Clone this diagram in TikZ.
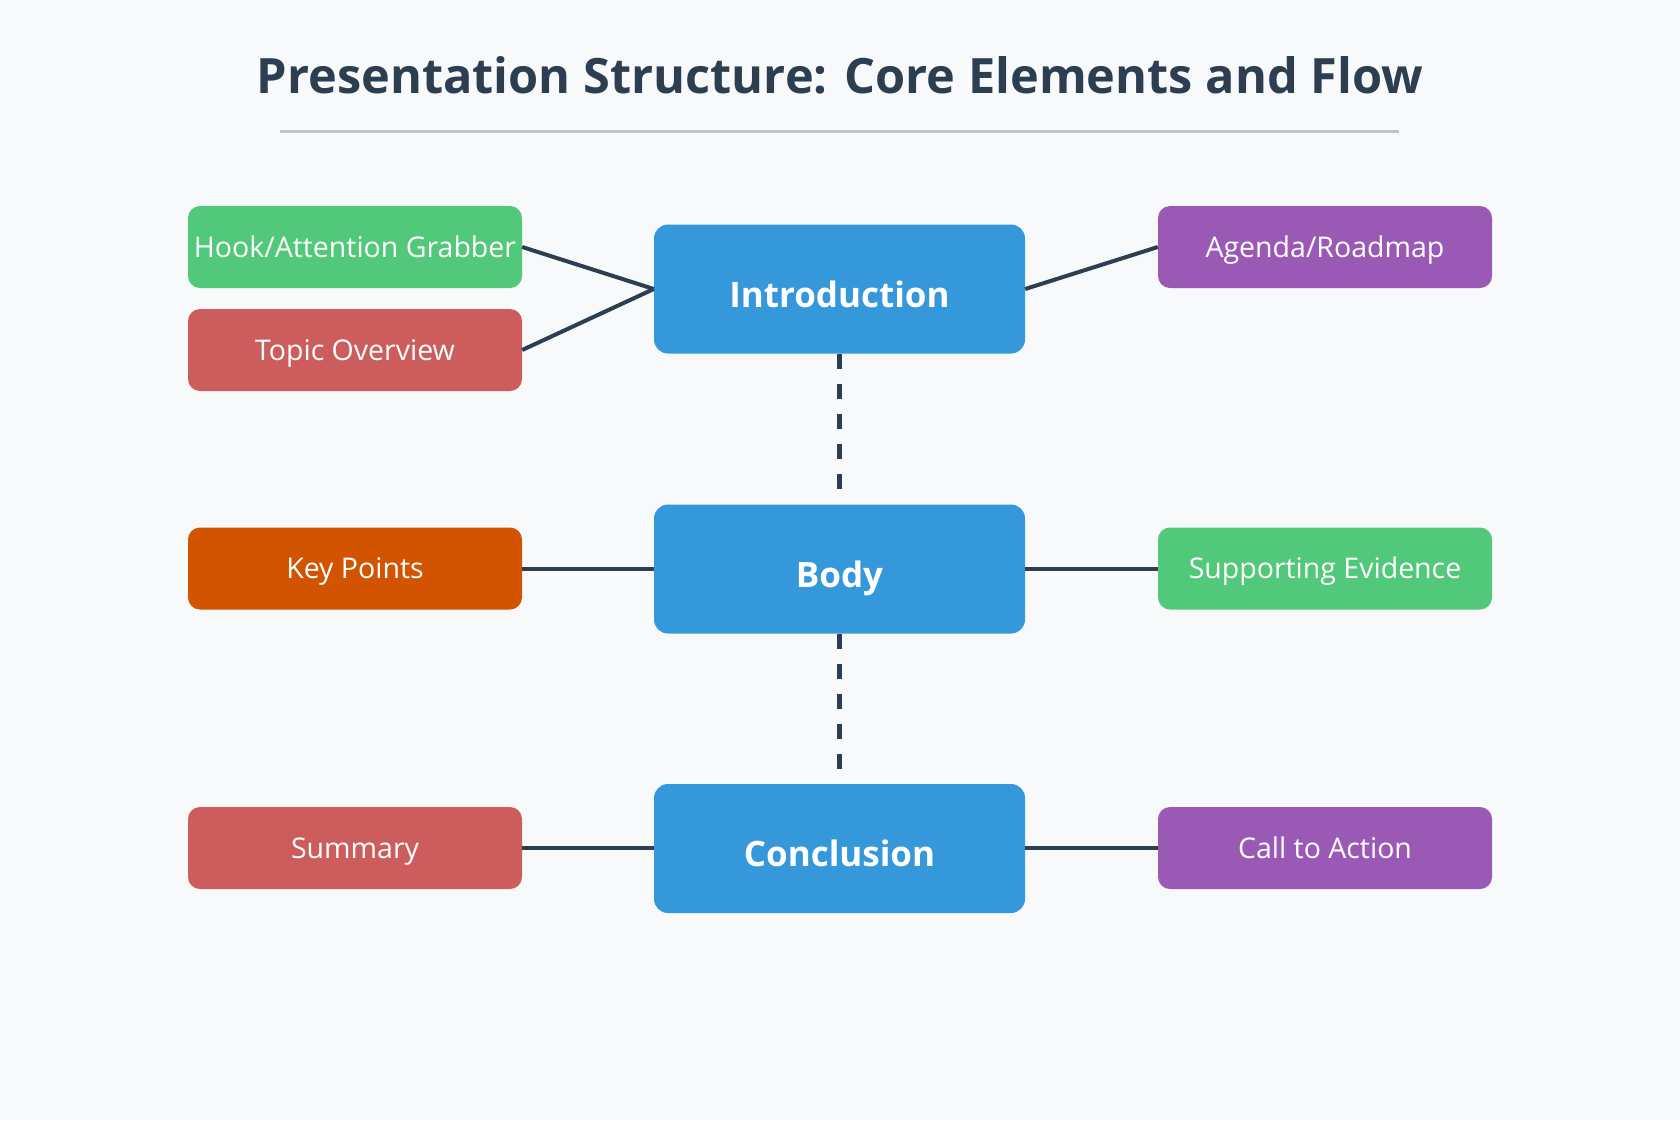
\documentclass[tikz,border=0pt]{standalone}
\usepackage{fontspec}
\setmainfont{Open Sans}
\definecolor{bgc}{HTML}{F7F9FB}
\definecolor{titlec}{HTML}{2C3E50}
\definecolor{rulec}{HTML}{BDC3C7}
\definecolor{bluec}{HTML}{3498DB}
\definecolor{greenc}{HTML}{52C87A}
\definecolor{redc}{HTML}{CD5C5C}
\definecolor{purplec}{HTML}{9B59B6}
\definecolor{orangec}{HTML}{D35400}
\begin{document}
\begin{tikzpicture}[x=1pt,y=-1pt,
  sidebox/.style={rectangle, rounded corners=12pt, minimum width=334pt, minimum height=82pt, inner sep=0pt},
  sidetext/.style={text=white, font=\fontsize{28.5}{32}\selectfont, anchor=base, inner sep=0pt, yshift=-10pt},
  mainbox/.style={rectangle, rounded corners=14pt, fill=bluec, minimum width=371pt, minimum height=129pt, inner sep=0pt},
  maintext/.style={text=white, font=\bfseries\fontsize{35}{40}\selectfont, anchor=base, inner sep=0pt, yshift=-18pt},
  conn/.style={draw=titlec, line width=4pt},
  dconn/.style={draw=titlec, line width=5pt, dash pattern=on 15pt off 15pt}]
\fill[bgc] (0,0) rectangle (1680,1120);
\useasboundingbox (0,0) rectangle (1680,1120);
\node[text=titlec, font=\bfseries\fontsize{48.7}{54}\selectfont] (title) at (840,75) {Presentation Structure: Core Elements and Flow};
\coordinate (rl) at (280,131);
\coordinate (rr) at (1399,131);
\draw[rulec, line width=3pt] (rl) -- (rr);

\node[mainbox] (intro) at (839.5,289) {};
\node[mainbox] (body) at (839.5,569) {};
\node[mainbox] (concl) at (839.5,848.5) {};
\node[maintext] (introt) at (intro) {Introduction};
\node[maintext] (bodyt) at (body) {Body};
\node[maintext] (conclt) at (concl) {Conclusion};

\node[sidebox, fill=greenc] (hook) at (355,247) {};
\node[sidebox, fill=redc] (topic) at (355,350) {};
\node[sidebox, fill=purplec] (agenda) at (1325,247) {};
\node[sidebox, fill=orangec] (key) at (355,568.5) {};
\node[sidebox, fill=greenc] (supp) at (1325,568.5) {};
\node[sidebox, fill=redc] (summ) at (355,848) {};
\node[sidebox, fill=purplec] (call) at (1325,848) {};
\node[sidetext] (hookt) at (hook) {Hook/Attention Grabber};
\node[sidetext] (topict) at (topic) {Topic Overview};
\node[sidetext] (agendat) at (agenda) {Agenda/Roadmap};
\node[sidetext] (keyt) at (key) {Key Points};
\node[sidetext] (suppt) at (supp) {Supporting Evidence};
\node[sidetext] (summt) at (summ) {Summary};
\node[sidetext] (callt) at (call) {Call to Action};

\draw[conn] (hook.east) -- (intro.west);
\draw[conn] (topic.east) -- (intro.west);
\draw[conn] (agenda.west) -- (intro.east);
\draw[conn] (key.east) -- (key.east -| body.west);
\draw[conn] (supp.west) -- (supp.west -| body.east);
\draw[conn] (summ.east) -- (summ.east -| concl.west);
\draw[conn] (call.west) -- (call.west -| concl.east);
\draw[dconn] (intro.south) -- ([yshift=15pt]body.north);
\draw[dconn] (body.south) -- ([yshift=15pt]concl.north);
\end{tikzpicture}
\end{document}
